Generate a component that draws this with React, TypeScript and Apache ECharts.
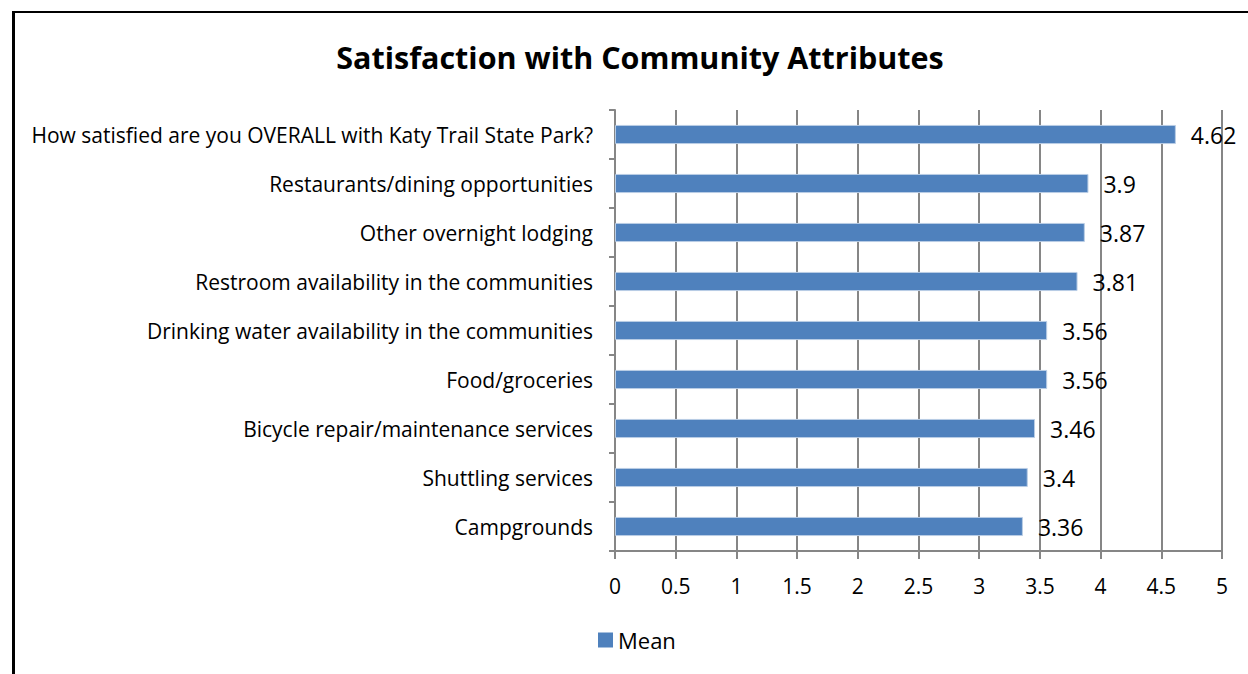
import React, { useEffect, useRef } from "react";
import * as echarts from "echarts";

const categories = [
  "How satisfied are you OVERALL with Katy Trail State Park?",
  "Restaurants/dining opportunities",
  "Other overnight lodging",
  "Restroom availability in the communities",
  "Drinking water availability in the communities",
  "Food/groceries",
  "Bicycle repair/maintenance services",
  "Shuttling services",
  "Campgrounds",
];
const meanValues = [4.62, 3.9, 3.87, 3.81, 3.56, 3.56, 3.46, 3.4, 3.36];
const seriesName = "Mean";
const titleText = "Satisfaction with Community Attributes";

const FONT = "'Open Sans', 'Noto Sans', sans-serif";
const GRID = "#868686";

export default function App() {
  const ref = useRef<HTMLDivElement>(null);
  useEffect(() => {
    document.body.style.margin = "0";
    const chart = echarts.init(ref.current!, null, { renderer: "svg" });
    chart.setOption({
      animation: false,
      backgroundColor: "#ffffff",
      title: {
        text: titleText,
        left: 635,
        textAlign: "center",
        top: 36,
        textStyle: { fontFamily: FONT, fontSize: 30.5, fontWeight: "bold", color: "#000" },
      },
      legend: {
        data: [{ name: seriesName, icon: "rect" }],
        left: 593,
        top: 624,
        itemWidth: 15,
        itemHeight: 15,
        itemGap: 6,
        itemStyle: { borderWidth: 0 },
        textStyle: { fontFamily: FONT, fontSize: 22, color: "#000" },
      },
      grid: { left: 615, right: 26, top: 110, bottom: 123, containLabel: false },
      xAxis: {
        type: "value",
        min: 0,
        max: 5,
        interval: 0.5,
        axisLine: { show: true, lineStyle: { color: GRID, width: 2 } },
        axisTick: { show: true, length: 8, lineStyle: { color: GRID, width: 2 } },
        splitLine: { show: true, lineStyle: { color: GRID, width: 2 } },
        axisLabel: { fontFamily: FONT, fontSize: 21, color: "#000", margin: 24 },
      },
      yAxis: {
        type: "category",
        data: categories,
        inverse: true,
        axisLine: { show: true, lineStyle: { color: GRID, width: 2 } },
        axisTick: { show: true, length: 6, lineStyle: { color: GRID, width: 2 } },
        axisLabel: { fontFamily: FONT, fontSize: 21, color: "#000", margin: 22 },
      },
      series: [
        {
          name: seriesName,
          type: "bar",
          data: meanValues,
          barCategoryGap: "61%",
          itemStyle: { color: "#4F81BD", borderColor: "#B9CDE5", borderWidth: 1 },
          label: {
            show: true,
            position: "right",
            distance: 15,
            fontFamily: FONT,
            fontSize: 23,
            color: "#000",
          },
        },
      ],
      graphic: [
        { type: "line", shape: { x1: 13.5, y1: 11, x2: 13.5, y2: 700 }, style: { stroke: "#000", lineWidth: 3 } },
        { type: "line", shape: { x1: 12, y1: 12, x2: 1260, y2: 12 }, style: { stroke: "#000", lineWidth: 2 } },
      ],
    });
    return () => chart.dispose();
  }, []);
  return <div ref={ref} style={{ width: 1248, height: 674 }} />;
}
